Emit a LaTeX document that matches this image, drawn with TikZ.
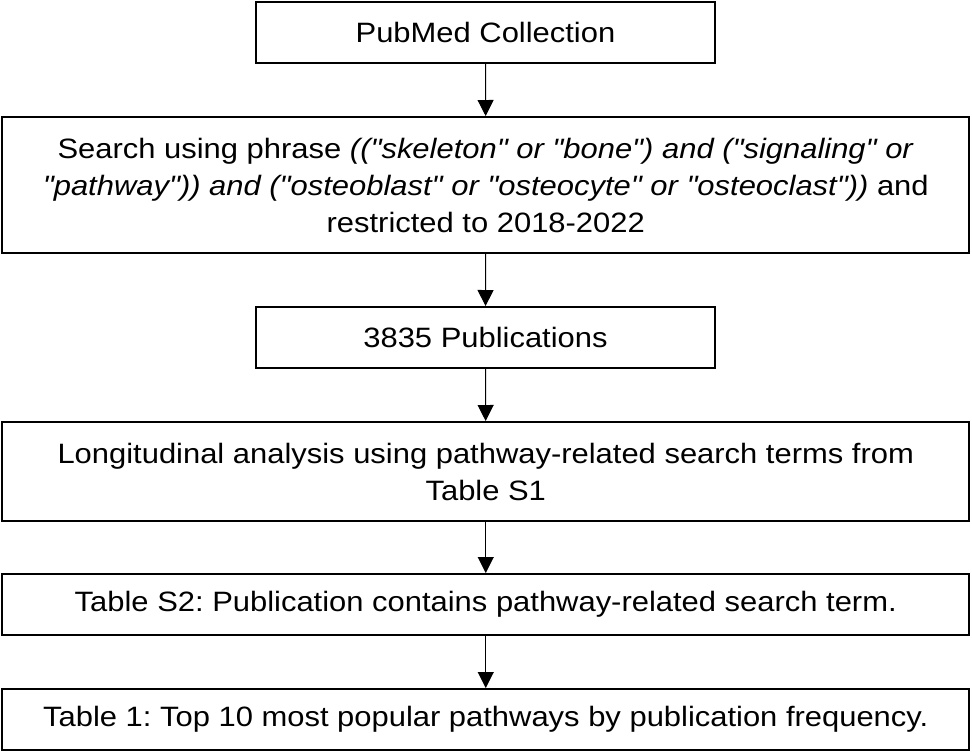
\documentclass[tikz,border=0pt]{standalone}
\usepackage{fontspec}
\setmainfont{Liberation Sans}[Ligatures=TeXOff, FakeStretch=1.105]
\usetikzlibrary{arrows.meta}
\frenchspacing
\begin{document}
\begin{tikzpicture}[x=0.75pt,y=-0.75pt,
  box/.style={draw=black, line width=1.5pt, rectangle, inner sep=0pt, align=center,
    font=\fontsize{21}{27.75}\selectfont, minimum height=45.75pt},
  narrowbox/.style={box, minimum width=344.25pt},
  widebox/.style={box, minimum width=724.9pt},
  arr/.style={-{Triangle[width=12pt,length=12pt]}, line width=0.75pt, draw=black}]
\useasboundingbox (0,0) rectangle (972,754);
\node[narrowbox] (b1) at (485.5,32.5) {PubMed Collection};
\node[widebox, minimum height=102pt] (b2) at (485.75,185) {Search using phrase \textit{(("skeleton" or "bone") and ("signaling" or}\\
\textit{"pathway")) and ("osteoblast" or "osteocyte" or "osteoclast"))} and\\
restricted to 2018-2022};
\node[narrowbox] (b3) at (485.5,337.5) {3835 Publications};
\node[widebox, minimum height=74.25pt] (b4) at (485.75,471.5) {Longitudinal analysis using pathway-related search terms from\\Table S1};
\node[widebox] (b5) at (485.75,604.5) {Table S2: Publication contains pathway-related search term.};
\node[widebox] (b6) at (485.75,719.5) {Table 1: Top 10 most popular pathways by publication frequency.};
\draw[arr] (b1) -- (b2);
\draw[arr] (b2) -- (b3);
\draw[arr] (b3) -- (b4);
\draw[arr] (b4) -- (b5);
\draw[arr] (b5) -- (b6);
\end{tikzpicture}
\end{document}
